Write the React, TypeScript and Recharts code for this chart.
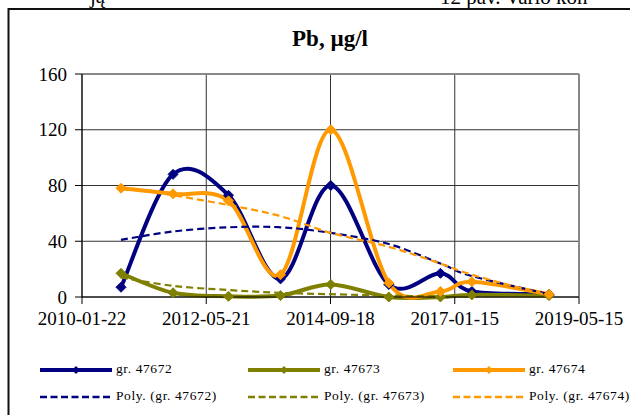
import React from 'react'
import { LineChart, Line, XAxis, YAxis, CartesianGrid, ReferenceLine } from 'recharts'

// sampling dates
const sampleDates = ['2010-10-16', '2011-10-07', '2012-10-20', '2013-10-11', '2014-09-20', '2015-10-22', '2016-10-09', '2017-05-12', '2018-10-22']

const gr47672 = [7, 88, 73, 13, 80, 9, 17, 4, 2]
const gr47673 = [17, 3, 0.5, 1, 9, 0, 0, 1.5, 1]
const gr47674 = [78, 74, 69, 16, 120, 10, 4, 11, 2]

// polynomial trendlines, read at the sample dates
const poly47672 = [41, 47, 50, 50, 46, 38, 24, 15, 2]
const poly47673 = [14, 8, 5, 3, 2, 1, 0.5, 0.5, 1]
const poly47674 = [79, 73, 66, 58, 46, 36, 24, 16, 1]

const xTickLabels = ['2010-01-22', '2012-05-21', '2014-09-18', '2017-01-15', '2019-05-15']
const yTicks = [0, 40, 80, 120, 160]

const seriesNames = ['gr. 47672', 'gr. 47673', 'gr. 47674']
const trendNames = ['Poly. (gr. 47672)', 'Poly. (gr. 47673)', 'Poly. (gr. 47674)']
const colors = ['#000080', '#808000', '#ff9900']

const DAY = 86400000
const origin = Date.parse(xTickLabels[0])
const toDays = (s: string) => Math.round((Date.parse(s) - origin) / DAY)

const xTicks = xTickLabels.map(toDays)

const data = sampleDates.map((d, i) => ({
  x: toDays(d),
  a: gr47672[i],
  b: gr47673[i],
  c: gr47674[i],
  ta: poly47672[i],
  tb: poly47673[i],
  tc: poly47674[i],
}))

// excel-like smoothed line (catmull-rom through the points)
function smoothCurve(context: any) {
  let pts: number[][] = []
  return {
    areaStart() {},
    areaEnd() {},
    lineStart() { pts = [] },
    point(x: number, y: number) { pts.push([+x, +y]) },
    lineEnd() {
      const n = pts.length
      if (!n) return
      context.moveTo(pts[0][0], pts[0][1])
      for (let i = 0; i < n - 1; i++) {
        const p0 = pts[i - 1] || pts[i]
        const p1 = pts[i]
        const p2 = pts[i + 1]
        const p3 = pts[i + 2] || p2
        context.bezierCurveTo(
          p1[0] + (p2[0] - p0[0]) / 6, p1[1] + (p2[1] - p0[1]) / 6,
          p2[0] - (p3[0] - p1[0]) / 6, p2[1] - (p3[1] - p1[1]) / 6,
          p2[0], p2[1],
        )
      }
    },
  }
}

const diamond = (color: string, r: number) => (props: any) => {
  const { cx, cy, index } = props
  if (cx == null || cy == null) return <g key={index} />
  return (
    <polygon
      key={index}
      points={`${cx},${cy - r} ${cx + r},${cy} ${cx},${cy + r} ${cx - r},${cy}`}
      fill={color}
      stroke={color}
      strokeWidth={1}
    />
  )
}

function ChartLegend() {
  const cols = [40, 248, 453]
  const rows = [370, 397]
  const font: React.CSSProperties = {
    position: 'absolute',
    fontSize: 13.5,
    letterSpacing: 0.6,
    lineHeight: '16px',
    color: '#000',
    whiteSpace: 'nowrap',
  }
  return (
    <>
      {cols.map((x, i) => (
        <React.Fragment key={i}>
          <svg style={{ position: 'absolute', left: x, top: rows[0] - 6 }} width={74} height={12}>
            <line x1={0} y1={6} x2={72} y2={6} stroke={colors[i]} strokeWidth={4} />
            <polygon points="36,2 40,6 36,10 32,6" fill={colors[i]} />
          </svg>
          <div style={{ ...font, left: x + 76, top: rows[0] - 9 }}>{seriesNames[i]}</div>
          <svg style={{ position: 'absolute', left: x, top: rows[1] - 6 }} width={74} height={12}>
            <line x1={0} y1={6} x2={72} y2={6} stroke={colors[i]} strokeWidth={2.5} strokeDasharray="7 3.5" />
          </svg>
          <div style={{ ...font, left: x + 76, top: rows[1] - 9 }}>{trendNames[i]}</div>
        </React.Fragment>
      ))}
    </>
  )
}

export default function App() {
  const tickStyle = { fontSize: 19, fill: '#000', fontFamily: '"Liberation Serif", serif' }
  return (
    <div
      style={{
        position: 'absolute',
        left: 0,
        top: 0,
        width: 630,
        height: 415,
        overflow: 'hidden',
        background: '#fff',
        fontFamily: '"Liberation Serif", serif',
      }}
    >
      {/* bits of the page text above the figure */}
      <svg style={{ position: 'absolute', left: 0, top: 0 }} width={630} height={415}>
        <text x={90} y={3} fontSize={21} fontFamily='"Liberation Serif", serif'>ją</text>
        <text x={440} y={4} fontSize={21} fontFamily='"Liberation Serif", serif'>12 pav. Vario kon</text>
        <line x1={8.5} y1={9} x2={630} y2={9} stroke="#111" strokeWidth={2} />
        <line x1={8.5} y1={8} x2={8.5} y2={415} stroke="#111" strokeWidth={2} />
      </svg>

      <div
        style={{
          position: 'absolute',
          left: 0,
          width: 630,
          top: 25,
          textAlign: 'center',
          fontSize: 23,
          fontWeight: 'bold',
          lineHeight: '28px',
          paddingLeft: 30,
          boxSizing: 'border-box',
        }}
      >
        Pb, µg/l
      </div>

      <div style={{ position: 'absolute', left: 0, top: 0 }}>
        <LineChart width={630} height={415} data={data} margin={{ top: 74, right: 51, bottom: 88, left: 22 }}>
          <CartesianGrid stroke="#333" strokeWidth={1} horizontalValues={yTicks} verticalValues={xTicks} />
          <ReferenceLine y={160} stroke="#888" strokeWidth={2} />
          <ReferenceLine x={xTicks[4]} stroke="#888" strokeWidth={2} />
          <XAxis
            type="number"
            dataKey="x"
            domain={[xTicks[0], xTicks[4]]}
            ticks={xTicks}
            tickFormatter={(v: number) => xTickLabels[xTicks.indexOf(v)] ?? ''}
            interval={0}
            height={30}
            tickSize={7}
            tickMargin={8}
            stroke="#000"
            tick={tickStyle}
          />
          <YAxis
            type="number"
            domain={[0, 160]}
            ticks={yTicks}
            interval={0}
            width={60}
            tickSize={7}
            tickMargin={8}
            stroke="#000"
            tick={tickStyle}
          />
          <Line dataKey="a" type={smoothCurve as any} stroke={colors[0]} strokeWidth={4} dot={diamond(colors[0], 5)} activeDot={false} isAnimationActive={false} />
          <Line dataKey="b" type={smoothCurve as any} stroke={colors[1]} strokeWidth={4} dot={diamond(colors[1], 5)} activeDot={false} isAnimationActive={false} />
          <Line dataKey="c" type={smoothCurve as any} stroke={colors[2]} strokeWidth={4} dot={diamond(colors[2], 5)} activeDot={false} isAnimationActive={false} />
          <Line dataKey="ta" type={smoothCurve as any} stroke={colors[0]} strokeWidth={2.2} strokeDasharray="7 4" dot={false} activeDot={false} isAnimationActive={false} />
          <Line dataKey="tb" type={smoothCurve as any} stroke={colors[1]} strokeWidth={2.2} strokeDasharray="7 4" dot={false} activeDot={false} isAnimationActive={false} />
          <Line dataKey="tc" type={smoothCurve as any} stroke={colors[2]} strokeWidth={2.2} strokeDasharray="7 4" dot={false} activeDot={false} isAnimationActive={false} />
        </LineChart>
      </div>

      <ChartLegend />
    </div>
  )
}
